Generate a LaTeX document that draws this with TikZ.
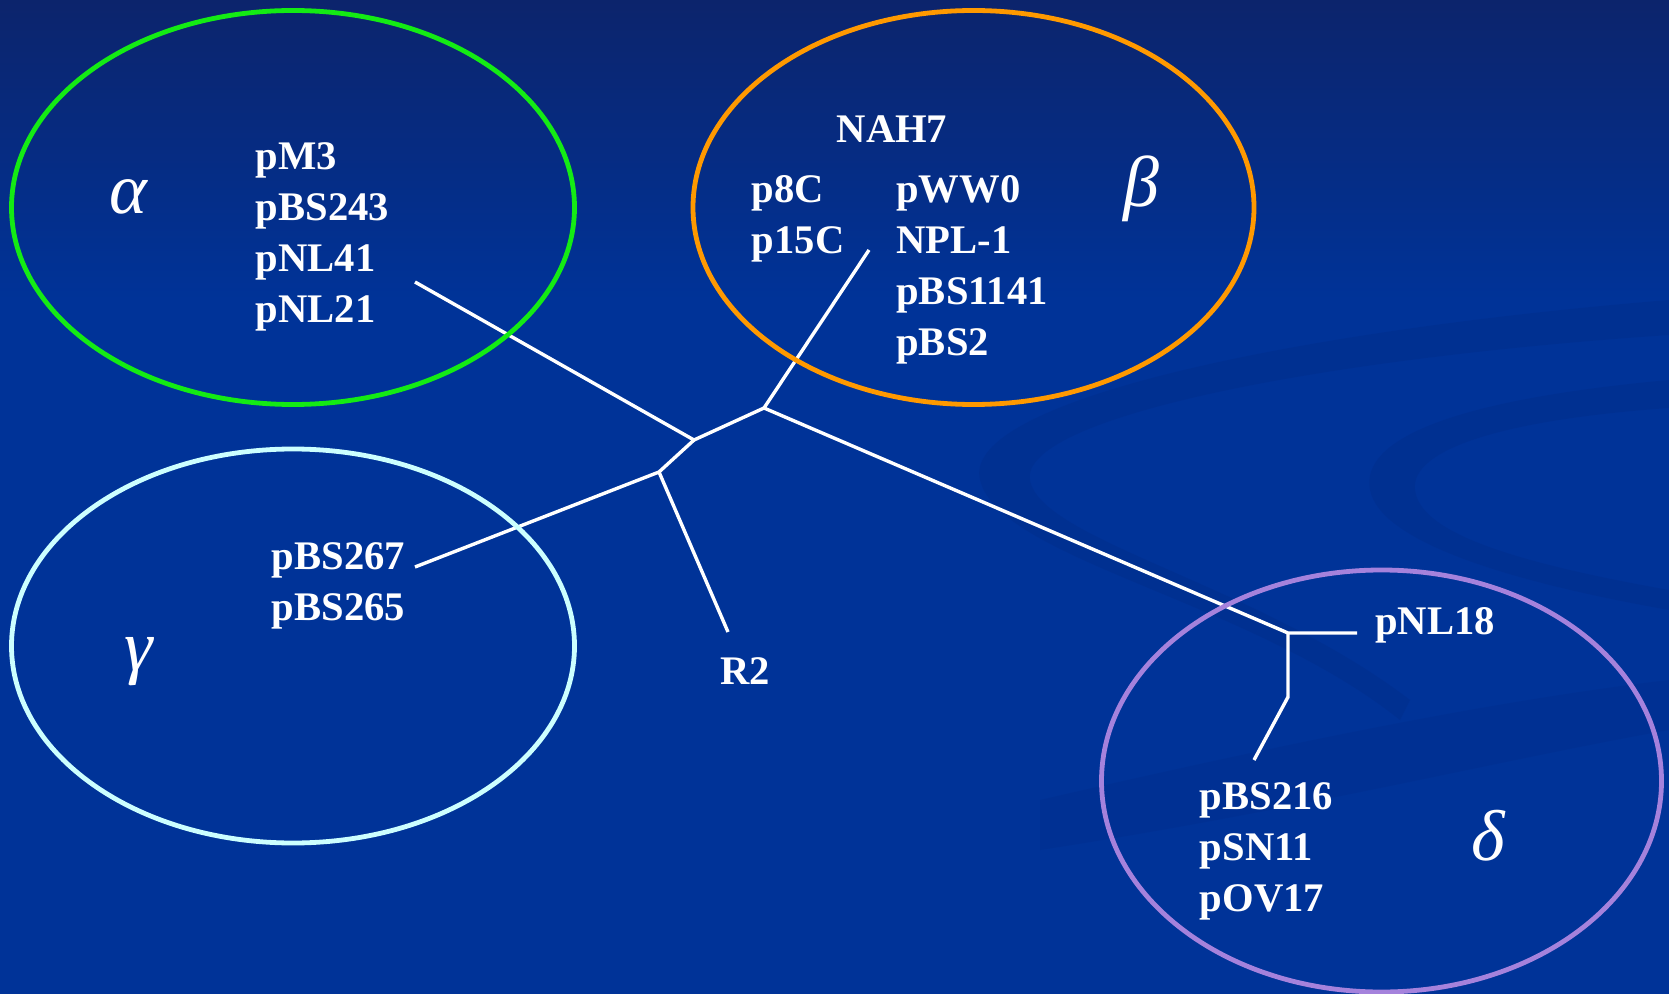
\documentclass[tikz,border=0pt]{standalone}
\usepackage{fontspec}
\setmainfont{Liberation Serif}
\definecolor{bgtop}{RGB}{12,36,108}
\definecolor{bgmain}{RGB}{0,51,152}
\definecolor{swoosh}{RGB}{0,40,128}
\definecolor{ringa}{RGB}{20,235,20}
\definecolor{ringb}{RGB}{255,153,0}
\definecolor{ringg}{RGB}{204,255,255}
\definecolor{ringd}{RGB}{165,130,220}

\begin{document}
\begin{tikzpicture}[x=0.5pt,y=-0.5pt,
  branch/.style={draw=white,line width=1.7pt},
  ring/.style={line width=2.4pt},
  names/.style={text=white,font=\fontsize{20.3}{25.5}\selectfont\bfseries,inner sep=0pt,align=left,anchor=west},
  greek/.style={text=white,font=\fontsize{36}{40}\selectfont\itshape,inner sep=0pt}]
\useasboundingbox (0,0) rectangle (1669,994);

% background
\fill[bgmain] (0,0) rectangle (1669,994);
\shade[top color=bgtop,bottom color=bgmain] (0,0) rectangle (1669,300);
\fill[swoosh,opacity=0.25] (1669,300) .. controls (1300,330) and (960,400) .. (980,480) .. controls (1000,560) and (1250,600) .. (1400,720) -- (1410,700) .. controls (1260,585) and (1040,540) .. (1030,480) .. controls (1020,420) and (1300,360) .. (1669,335) -- cycle;
\fill[swoosh,opacity=0.25] (1669,380) .. controls (1450,400) and (1360,440) .. (1370,490) .. controls (1380,540) and (1500,580) .. (1669,610) -- (1669,590) .. controls (1500,560) and (1420,530) .. (1415,490) .. controls (1410,450) and (1500,420) .. (1669,408) -- cycle;
\fill[swoosh,opacity=0.2] (1040,800) .. controls (1300,740) and (1500,700) .. (1669,680) -- (1669,730) .. controls (1500,760) and (1300,810) .. (1040,850) -- cycle;

% tree
\coordinate (j1) at (694,440);
\coordinate (j2) at (764,408);
\coordinate (j3) at (659,472);
\coordinate (j4) at (1288,633);
\coordinate (j5) at (1288,697);
\coordinate (aend) at (415,282);
\coordinate (bend) at (869,250);
\coordinate (gend) at (415,567);
\coordinate (rend) at (728,632);
\coordinate (nend) at (1357,633);
\coordinate (dend) at (1254,760);

\draw[branch] (aend) -- (j1) -- (j2) -- (bend);
\draw[branch] (j2) -- (j4) -- (nend);
\draw[branch] (j4) -- (j5) -- (dend);
\draw[branch] (j1) -- (j3) -- (gend);
\draw[branch] (j3) -- (rend);

% groups
\coordinate (acen) at (293,207.5);
\coordinate (bcen) at (973.5,207.5);
\coordinate (gcen) at (293,646);
\coordinate (dcen) at (1381.5,781);

\draw[ring,draw=ringa] (acen) ellipse [x radius=281.5,y radius=197];
\draw[ring,draw=ringb] (bcen) ellipse [x radius=280.5,y radius=197];
\draw[ring,draw=ringg] (gcen) ellipse [x radius=281.5,y radius=197];
\draw[ring,draw=ringd] (dcen) ellipse [x radius=280,y radius=211];

\node[greek] (alpha) at (128,197) {α};
\node[greek] (beta) at (1141,189) {β};
\node[greek] (gamma) at (139,662) {γ};
\node[greek] (delta) at (1488,836) {δ};

\node[names] (alist) at (255.5,237) {pM3\\pBS243\\pNL41\\pNL21};
\node[names,anchor=center] (nah) at (892,129) {NAH7};
\node[names] (blist) at (751.5,219) {p8C\\p15C};
\node[names] (clist) at (896,270) {pWW0\\NPL-1\\pBS1141\\pBS2};
\node[names] (glist) at (271.5,586) {pBS267\\pBS265};
\node[names,anchor=center] (rtwo) at (745,671) {R2};
\node[names] (nlist) at (1375,625) {pNL18};
\node[names] (dlist) at (1199.5,851) {pBS216\\pSN11\\pOV17};
\end{tikzpicture}
\end{document}
